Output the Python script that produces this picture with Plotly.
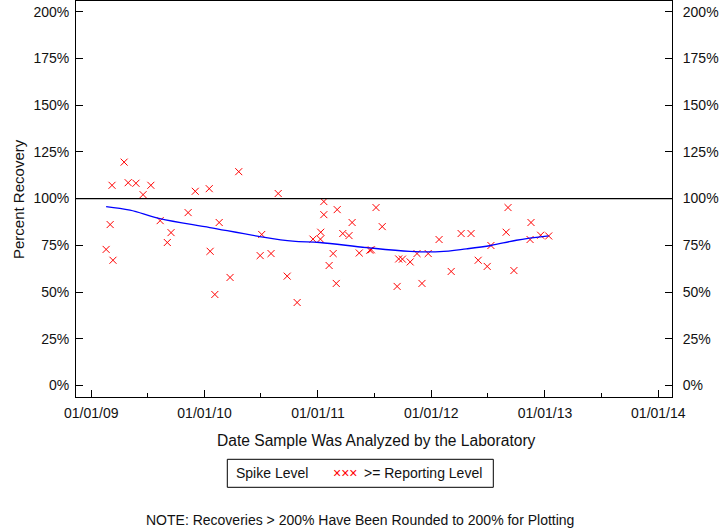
import plotly.graph_objects as go

# ---- data ----
sample_dates = [
    "2009-02-18", "2009-03-03", "2009-03-09", "2009-03-12", "2009-04-17", "2009-04-30",
    "2009-05-25", "2009-06-17", "2009-07-12", "2009-08-11", "2009-09-03", "2009-09-15",
    "2009-11-09", "2009-12-02", "2010-01-16", "2010-01-19", "2010-02-03", "2010-02-17",
    "2010-03-24", "2010-04-21", "2010-06-29", "2010-07-04", "2010-08-03", "2010-08-26",
    "2010-09-24", "2010-10-26", "2010-12-16", "2011-01-09", "2011-01-10", "2011-01-20",
    "2011-01-20", "2011-02-06", "2011-02-19", "2011-03-01", "2011-03-04", "2011-03-22",
    "2011-04-11", "2011-04-21", "2011-05-14", "2011-06-17", "2011-06-22", "2011-07-07",
    "2011-07-27", "2011-09-13", "2011-09-18", "2011-09-30", "2011-10-25", "2011-11-16",
    "2011-12-02", "2011-12-22", "2012-01-26", "2012-03-05", "2012-04-06", "2012-05-08",
    "2012-05-31", "2012-06-29", "2012-07-11", "2012-08-29", "2012-09-04", "2012-09-23",
    "2012-11-14", "2012-11-17", "2012-12-18", "2013-01-13",
]
recovery_pct = [
    72.8, 86.1, 107.1, 67.0, 119.5, 108.5,
    108.2, 102.1, 107.1, 88.2, 76.5, 81.8,
    92.5, 103.9, 105.3, 71.8, 48.7, 87.2,
    57.8, 114.4, 69.5, 80.8, 70.6, 102.7,
    58.5, 44.4, 78.3, 78.3, 82.0, 98.4,
    91.4, 64.2, 70.6, 54.6, 94.1, 81.3,
    80.2, 87.2, 70.9, 72.4, 72.6, 95.2,
    85.0, 53.0, 67.7, 67.6, 66.1, 70.6,
    54.6, 70.6, 78.1, 61.0, 81.3, 81.3,
    67.0, 63.7, 74.9, 82.0, 95.2, 61.5,
    78.1, 87.2, 80.4, 80.0,
]

smooth_dates = [
    "2009-02-18", "2009-05-06", "2009-08-10", "2010-01-18", "2010-06-28", "2010-10-12",
    "2011-01-07", "2011-06-06", "2011-10-24", "2012-01-28", "2012-04-23", "2012-07-11",
    "2012-10-01", "2013-01-13",
]
smooth_pct = [95.7, 93.8, 89.3, 84.5, 79.7, 77.2, 76.5, 73.8, 71.8, 71.6, 73.1, 74.9, 77.7, 80.0]

y_tick_vals = [0, 25, 50, 75, 100, 125, 150, 175, 200]
y_tick_text = ["0%", "25%", "50%", "75%", "100%", "125%", "150%", "175%", "200%"]
reference_level = 100

legend_label_1 = "Spike Level"
legend_marker_text = "×××"
legend_label_2 = ">= Reporting Level"
x_title = "Date Sample Was Analyzed by the Laboratory"
y_title = "Percent Recovery"
note_text = "NOTE: Recoveries > 200% Have Been Rounded to 200% for Plotting"

# ---- figure ----
FONT = "Liberation Sans, Arial, sans-serif"
x_range = ["2008-11-13", "2014-02-14"]
y_range = [-6.15, 205.7]

fig = go.Figure()

fig.add_trace(go.Scatter(
    x=sample_dates, y=recovery_pct, mode="markers",
    marker=dict(symbol="x-thin-open", size=7, color="#FF0000",
                line=dict(color="#FF0000", width=1)),
    showlegend=False, hoverinfo="x+y",
))
fig.add_trace(go.Scatter(
    x=smooth_dates, y=smooth_pct, mode="lines",
    line=dict(color="#0000FF", width=1.3, shape="spline"),
    showlegend=False,
))
# invisible trace to activate the right-hand axis
fig.add_trace(go.Scatter(
    x=[smooth_dates[0]], y=[smooth_pct[0]], yaxis="y2", mode="markers",
    marker=dict(opacity=0), showlegend=False, hoverinfo="skip",
))

fig.add_shape(type="line", xref="paper", x0=0, x1=1, yref="y",
              y0=reference_level, y1=reference_level,
              line=dict(color="black", width=1.2))

axis_common = dict(
    showline=True, linecolor="black", linewidth=1,
    showgrid=False, zeroline=False, automargin=False,
    ticks="inside", ticklen=7, tickcolor="black", tickwidth=1,
    tickfont=dict(family=FONT, size=14, color="#111111"),
)

fig.update_layout(
    width=720, height=528,
    margin=dict(l=76, r=48, t=1, b=131, autoexpand=False),
    paper_bgcolor="white", plot_bgcolor="white",
    font=dict(family=FONT, size=14, color="#111111"),
    xaxis=dict(
        range=x_range, type="date", mirror=True,
        tick0="2009-01-01", dtick="M12", tickformat="%m/%d/%y",
        ticklabelstandoff=3,
        minor=dict(ticks="inside", ticklen=4, dtick="M6", tick0="2009-07-01",
                   tickcolor="black", showgrid=False),
        **axis_common,
    ),
    yaxis=dict(
        range=y_range, tickvals=y_tick_vals, ticktext=y_tick_text, mirror=True,
        ticklabelstandoff=3,
        **axis_common,
    ),
    yaxis2=dict(
        range=y_range, tickvals=y_tick_vals, ticktext=y_tick_text,
        overlaying="y", side="right", ticklabelstandoff=7,
        **axis_common,
    ),
)

# titles and notes
fig.add_annotation(text=x_title, xref="paper", yref="paper", x=0.5035, y=(397 - 440) / 396,
                   showarrow=False, font=dict(family=FONT, size=15.6, color="#111111"),
                   xanchor="center", yanchor="middle")
fig.add_annotation(text=y_title, xref="paper", yref="paper", x=(18 - 76) / 596, y=0.5,
                   showarrow=False, textangle=-90,
                   font=dict(family=FONT, size=15, color="#111111"),
                   xanchor="center", yanchor="middle")
fig.add_annotation(text=note_text, xref="paper", yref="paper", x=(360 - 76) / 596,
                   y=(397 - 520) / 396, showarrow=False,
                   font=dict(family=FONT, size=14, color="#111111"),
                   xanchor="center", yanchor="middle")

# legend box
fig.add_shape(type="rect", xref="paper", yref="paper",
              x0=(227.3 - 76) / 596, x1=(493.3 - 76) / 596,
              y0=(397 - 459.3) / 396, y1=(397 - 487.3) / 396,
              line=dict(color="black", width=1), fillcolor="white")
leg_y = (397 - 473.3) / 396
fig.add_annotation(text=legend_label_1, xref="paper", yref="paper", x=(234 - 76) / 596, y=leg_y,
                   showarrow=False, xanchor="left", yanchor="middle",
                   font=dict(family=FONT, size=14, color="#111111"))
fig.add_annotation(text=legend_marker_text, xref="paper", yref="paper", x=(330.5 - 76) / 596, y=leg_y,
                   showarrow=False, xanchor="left", yanchor="middle",
                   font=dict(family=FONT, size=14, color="#FF0000"))
fig.add_annotation(text=legend_label_2, xref="paper", yref="paper", x=(361.5 - 76) / 596, y=leg_y,
                   showarrow=False, xanchor="left", yanchor="middle",
                   font=dict(family=FONT, size=14, color="#111111"))

fig.write_html(
    "out.html",
    config={"displayModeBar": False},
    post_script="document.body.style.margin='0';document.body.style.padding='0';",
)
